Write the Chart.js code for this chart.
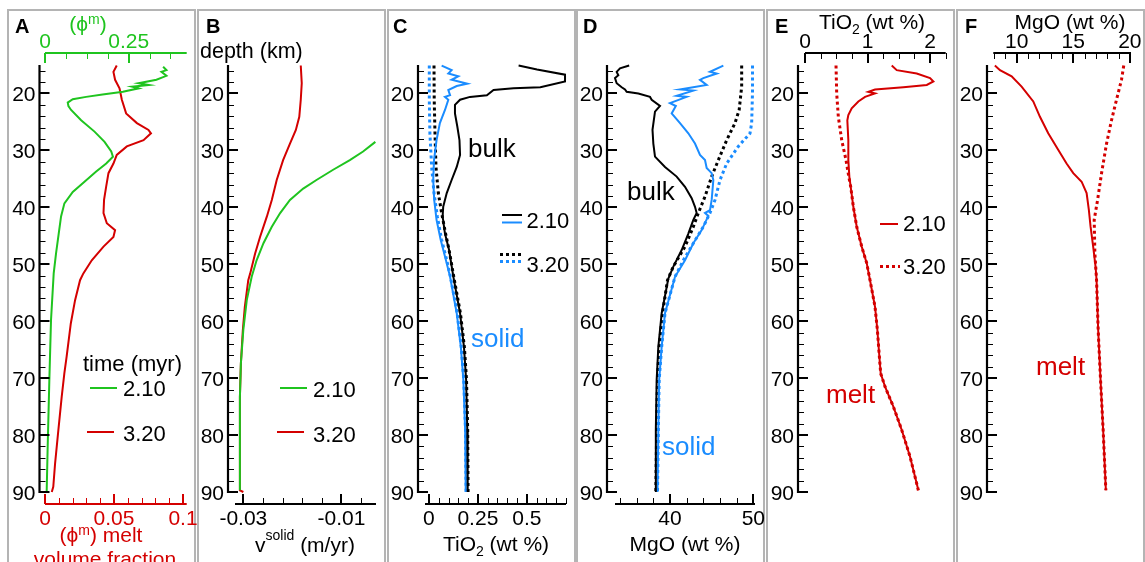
<!DOCTYPE html>
<html><head><meta charset="utf-8">
<script src="https://cdn.jsdelivr.net/npm/chart.js@4.4.0/dist/chart.umd.min.js"></script>
<style>
html,body{margin:0;padding:0;background:#fff;width:1145px;height:562px;overflow:hidden;position:relative;}
.panel{position:absolute;top:9px;height:620px;border:2px solid #b4b4b4;box-sizing:border-box;}
canvas{position:absolute;left:0;top:0;}
</style></head><body>
<div class="panel" style="left:7px;width:189px"></div>
<div class="panel" style="left:197px;width:189px"></div>
<div class="panel" style="left:387px;width:189px"></div>
<div class="panel" style="left:576px;width:189px"></div>
<div class="panel" style="left:766px;width:189px"></div>
<div class="panel" style="left:956px;width:189px"></div>
<script>
// ---------------- depth axis ----------------
const depthRange = [15, 90];
const depthMajorTicks = [20, 30, 40, 50, 60, 70, 80, 90];
const depthTickLabels = ['20', '30', '40', '50', '60', '70', '80', '90'];
const depthMinorTicks = [16, 18, 22, 24, 26, 28, 32, 34, 36, 38, 42, 44, 46, 48, 52, 54, 56, 58, 62, 64, 66, 68, 72, 74, 76, 78, 82, 84, 86, 88];

// ---------------- panel A : melt volume fraction ----------------
const A_melt320_depth = [15.1,16.2,17.6,19.1,21.1,23.5,25.2,26.4,27.0,28.2,29.3,30.8,32.3,34.0,36.4,38.7,41.0,42.8,44.0,45.2,46.9,49.3,51.6,52.8,56.3,60.4,66.2,69.2,73.3,79.1,85.0,89.1,90.0];
const A_melt320_phi   = [0.052,0.0496,0.0508,0.054,0.0557,0.0588,0.0666,0.075,0.0768,0.0714,0.0593,0.052,0.0496,0.046,0.0443,0.0428,0.0424,0.0448,0.0508,0.0496,0.0424,0.0339,0.0278,0.0254,0.0218,0.0187,0.0157,0.014,0.0121,0.0097,0.0073,0.006,0.0049];
const A_melt210_depth = [15.3,15.9,16.2,16.9,17.6,18.2,18.5,18.8,19.1,19.7,20.2,20.6,21.0,21.6,22.2,22.9,24.7,26.7,28.5,30.2,31.1,32.3,33.7,35.5,37.3,39.3,41.6,44.6,48.1,51.6,59.8,70.3,82.0,90.0];
const A_melt210_phi   = [0.353,0.363,0.348,0.363,0.333,0.28,0.31,0.26,0.28,0.233,0.172,0.123,0.083,0.068,0.07,0.078,0.108,0.148,0.178,0.198,0.203,0.183,0.153,0.118,0.083,0.058,0.048,0.041,0.033,0.026,0.018,0.013,0.008,0.005];
const A_bottomTicks = [0, 0.05, 0.1];
const A_bottomLabels = ['0', '0.05', '0.1'];
const A_topTicks = [0, 0.25];
const A_topLabels = ['0', '0.25'];

// ---------------- panel B : solid velocity ----------------
const B_v320_depth = [15.1,18.2,21.1,24.1,26.4,28.8,31.7,35.2,38.7,41.6,45.2,48.1,51.6,52.8,57.5,61.5,67.4,73.3,82.0,89.7,90.0];
const B_v320_vel   = [-0.0183,-0.0181,-0.0183,-0.0186,-0.0193,-0.0205,-0.0219,-0.0232,-0.0242,-0.0252,-0.0266,-0.0276,-0.0286,-0.029,-0.0297,-0.0301,-0.0305,-0.0307,-0.0307,-0.0307,-0.0300];
const B_v210_depth = [28.5,30.2,31.7,33.4,35.2,36.7,38.7,41.0,43.4,46.3,49.3,52.2,56.3,61.5,67.4,73.3,89.7];
const B_v210_vel   = [-0.0031,-0.0056,-0.0083,-0.0117,-0.0151,-0.0178,-0.0205,-0.0225,-0.0242,-0.0259,-0.0273,-0.0283,-0.0293,-0.030,-0.0305,-0.0307,-0.0307];
const B_ticks = [-0.03, -0.01];
const B_labels = ['-0.03', '-0.01'];

// ---------------- panel C : TiO2 bulk / solid ----------------
const C_bulk210_depth = [15.1,15.8,16.7,17.9,18.9,19.1,19.4,20.3,20.6,21.1,22.0,23.5,25.8,28.2,30.8,32.9,35.2,37.5,39.9,41.6,44.6,47.5,52.2,58.6,64.5,70.3,79.1,90.0];
const C_bulk210_tio2  = [0.458,0.552,0.695,0.695,0.569,0.432,0.33,0.296,0.21,0.159,0.133,0.133,0.145,0.156,0.159,0.142,0.116,0.091,0.073,0.07,0.082,0.103,0.125,0.159,0.179,0.19,0.196,0.198];
const C_bulk320_depth = [15.1,21.1,27.0,32.9,37.5,41.0,44.6,47.5,52.2,58.6,64.5,70.3,79.1,90.0];
const C_bulk320_tio2  = [0.026,0.027,0.031,0.036,0.048,0.065,0.085,0.103,0.127,0.161,0.181,0.192,0.198,0.2];
const C_solid210_depth = [15.1,15.9,16.5,17.0,17.6,18.3,18.7,19.4,20.3,20.6,21.1,22.9,25.2,28.2,31.7,35.2,38.7,42.2,45.7,49.3,52.2,58.6,64.5,70.3,79.1,90.0];
const C_solid210_tio2  = [0.065,0.116,0.099,0.15,0.116,0.196,0.142,0.099,0.108,0.082,0.099,0.082,0.056,0.039,0.026,0.022,0.027,0.039,0.06,0.087,0.108,0.142,0.163,0.176,0.185,0.188];
const C_solid320_depth = [15.1,21.1,27.0,32.9,37.5,41.6,45.7,49.3,52.2,58.6,64.5,70.3,79.1,90.0];
const C_solid320_tio2  = [0.002,0.002,0.005,0.014,0.026,0.043,0.065,0.091,0.11,0.144,0.165,0.178,0.187,0.19];
const C_ticks = [0, 0.25, 0.5];
const C_labels = ['0', '0.25', '0.5'];

// ---------------- panel D : MgO bulk / solid ----------------
const D_bulk210_depth = [15.1,15.6,16.2,16.8,17.3,18.2,18.9,19.3,19.7,20.0,20.6,21.1,22.2,23.2,26.4,28.8,31.1,32.9,34.6,36.4,38.4,39.9,41.0,42.2,44.6,47.5,50.4,52.5,58.6,64.5,70.3,79.1,90.0];
const D_bulk210_mgo   = [35.1,34.0,33.6,33.8,33.4,33.6,34.2,34.6,34.8,36.2,37.6,37.8,38.8,38.2,37.9,38.0,38.2,39.4,40.8,41.8,42.6,43.0,43.2,42.8,42.2,41.4,40.4,39.8,39.0,38.6,38.4,38.3,38.3];
const D_bulk320_depth = [15.1,18.8,22.9,25.2,28.2,31.7,34.6,38.1,41.0,43.4,46.9,50.4,52.8,58.6,64.5,70.3,79.1,90.0];
const D_bulk320_mgo   = [48.6,48.6,48.3,47.8,46.8,45.8,45.0,44.2,43.4,42.8,41.8,40.4,39.7,39.1,38.7,38.5,38.4,38.3];
const D_solid210_depth = [15.1,16.2,16.5,17.3,17.6,18.5,19.3,19.5,20.4,20.6,21.7,22.2,23.5,25.2,27.0,28.8,30.8,31.7,33.1,34.0,35.2,38.7,40.5,41.0,41.5,44.0,46.3,49.3,52.2,58.6,64.5,70.3,79.1,90.0];
const D_solid210_mgo   = [46.4,44.8,45.6,44.0,43.6,44.4,41.2,42.8,40.8,42.0,40.0,40.7,40.2,41.2,42.2,43.0,43.6,44.2,44.4,45.0,45.2,45.0,44.8,44.2,44.6,43.8,42.8,41.8,40.6,39.4,39.0,38.7,38.6,38.5];
const D_solid320_depth = [15.1,19.8,25.2,27.0,29.3,32.3,35.2,38.7,41.0,43.4,46.3,49.3,52.2,58.6,64.5,70.3,79.1,90.0];
const D_solid320_mgo   = [49.9,49.9,49.8,49.6,48.2,46.8,46.0,45.4,44.8,44.0,42.8,41.6,40.6,39.4,39.0,38.7,38.6,38.5];
const D_ticks = [40, 50];
const D_labels = ['40', '50'];

// ---------------- panel E : melt TiO2 ----------------
const E_melt210_depth = [15.1,15.9,16.5,17.3,17.9,18.5,18.9,19.3,19.7,20.0,20.6,21.4,22.6,23.8,24.7,28.2,31.7,34.6,36.4,39.9,43.4,46.9,49.8,52.8,57.5,61.5,66.2,69.2,71.5,75.0,79.1,83.8,89.7];
const E_melt210_tio2  = [1.387,1.467,1.787,2.0,2.053,1.947,1.573,1.12,1.013,1.12,0.96,0.853,0.747,0.693,0.677,0.693,0.693,0.709,0.731,0.773,0.827,0.907,0.987,1.04,1.12,1.157,1.189,1.211,1.28,1.413,1.547,1.68,1.813];
const E_melt320_depth = [15.1,20.0,24.1,28.2,31.7,34.6,36.4,39.9,43.4,46.9,49.8,52.8,57.5,61.5,66.2,69.2,71.5,75.0,79.1,83.8,89.7];
const E_melt320_tio2  = [0.496,0.507,0.533,0.587,0.656,0.7,0.731,0.773,0.827,0.907,0.987,1.04,1.12,1.157,1.189,1.211,1.28,1.413,1.547,1.68,1.813];
const E_ticks = [0, 1, 2];
const E_labels = ['0', '1', '2'];

// ---------------- panel F : melt MgO ----------------
const F_melt210_depth = [15.1,15.9,17.0,18.8,21.4,24.1,27.0,29.9,32.3,34.0,35.5,37.5,40.5,43.4,46.9,50.4,52.8,61.5,70.3,79.1,89.7];
const F_melt210_mgo   = [8.08,8.53,9.56,10.44,11.47,12.06,12.79,13.67,14.41,15.0,15.74,16.18,16.38,16.53,16.76,16.97,17.06,17.2,17.41,17.64,17.88];
const F_melt320_depth = [15.1,17.6,21.1,24.7,28.8,34.0,38.7,42.2,48.1,52.8,61.5,70.3,79.1,89.7];
const F_melt320_mgo   = [19.46,19.26,18.82,18.38,17.94,17.5,17.15,16.85,16.91,17.06,17.2,17.41,17.64,17.88];
const F_ticks = [10, 15, 20];
const F_labels = ['10', '15', '20'];

// ---------------- styling ----------------
const GREEN = '#1fc41f', RED = '#d40000', BLUE = '#1a8cff', BLACK = '#000000';
const FONT = '"Liberation Sans", Arial, Helvetica, sans-serif';
const W = 1145, H = 562, AREA_TOP = 65, AREA_BOTTOM = 492;

function pts(depths, vals) { return depths.map((d, i) => ({ x: vals[i], y: d })); }
function ds(label, depths, vals, color, dotted, xAxisID) {
  return {
    label, data: pts(depths, vals), borderColor: color, backgroundColor: color,
    borderWidth: dotted ? 3 : 2, borderDash: dotted ? [3, 3] : [],
    pointRadius: 0, tension: 0, fill: false, clip: false, xAxisID: xAxisID || 'x', yAxisID: 'y'
  };
}
function seg(ctx, x1, y1, x2, y2) { ctx.beginPath(); ctx.moveTo(x1, y1); ctx.lineTo(x2, y2); ctx.stroke(); }
function rich(ctx, parts, x, y, align, color) {
  let w = 0;
  parts.forEach(p => { ctx.font = (p.bold ? 'bold ' : '') + (p.size || 21) + 'px ' + FONT; p.w = ctx.measureText(p.t).width; w += p.w; });
  let cx = align === 'center' ? x - w / 2 : (align === 'right' ? x - w : x);
  ctx.fillStyle = color; ctx.textAlign = 'left'; ctx.textBaseline = 'alphabetic';
  parts.forEach(p => { ctx.font = (p.bold ? 'bold ' : '') + (p.size || 21) + 'px ' + FONT; ctx.fillText(p.t, cx, y + (p.dy || 0)); cx += p.w; });
}

function drawAxes(chart, spec) {
  const ctx = chart.ctx, ca = chart.chartArea, ys = chart.scales.y;
  ctx.save();
  ctx.lineCap = 'butt';
  // depth axis
  const ax = ca.left - spec.yGap;
  const yTop = ys.getPixelForValue(depthRange[0]), yBot = ys.getPixelForValue(depthRange[1]);
  ctx.strokeStyle = '#000';
  ctx.lineWidth = 1;
  depthMinorTicks.forEach(d => { const p = Math.round(ys.getPixelForValue(d)) + 0.5; seg(ctx, ax, p, ax + 6, p); });
  ctx.lineWidth = 2;
  depthMajorTicks.forEach(d => { const p = Math.round(ys.getPixelForValue(d)); seg(ctx, ax, p, ax + 10, p); });
  ctx.lineWidth = 2.2;
  seg(ctx, ax, yTop, ax, yBot + 1);
  ctx.fillStyle = '#000'; ctx.font = '21px ' + FONT; ctx.textAlign = 'right'; ctx.textBaseline = 'alphabetic';
  depthMajorTicks.forEach((d, i) => ctx.fillText(depthTickLabels[i], ax - 4, ys.getPixelForValue(d) + 7.5));
  // value axes
  spec.xAxes.forEach(a => {
    const sc = chart.scales[a.id];
    const bottom = a.side === 'bottom';
    const ay = bottom ? ca.bottom + 12 : ca.top - 12;
    const dir = bottom ? -1 : 1;
    ctx.strokeStyle = a.color; ctx.fillStyle = a.color;
    ctx.lineWidth = 1;
    for (let k = 0; ; k++) {
      const v = a.minorFrom + k * a.minorStep;
      if (v > sc.max + 1e-9) break;
      const p = Math.round(sc.getPixelForValue(v)) + 0.5;
      seg(ctx, p, ay, p, ay + dir * 6);
    }
    ctx.lineWidth = 2;
    a.ticks.forEach(v => { const p = Math.round(sc.getPixelForValue(v)); seg(ctx, p, ay, p, ay + dir * 10); });
    ctx.lineWidth = 2.2;
    seg(ctx, ca.left, ay, ca.right, ay);
    ctx.font = '21px ' + FONT; ctx.textAlign = 'center'; ctx.textBaseline = 'alphabetic';
    a.ticks.forEach((v, i) => ctx.fillText(a.labels[i], sc.getPixelForValue(v), bottom ? ay + 21 : ay - 4.7));
  });
  ctx.restore();
}

function drawAnno(chart, anno) {
  const ctx = chart.ctx;
  ctx.save();
  anno.forEach(a => {
    if (a.line) {
      ctx.strokeStyle = a.color; ctx.lineWidth = a.dotted ? 3 : 2; ctx.setLineDash(a.dotted ? [3, 3] : []);
      seg(ctx, a.line[0], a.line[1], a.line[2], a.line[1]);
      ctx.setLineDash([]);
    } else {
      rich(ctx, a.parts, a.x, a.y, a.align || 'left', a.color || '#000');
    }
  });
  ctx.restore();
}

function makeChart(left, right, xScales, datasets, spec) {
  const canvas = document.createElement('canvas');
  canvas.width = W; canvas.height = H;
  canvas.style.width = W + 'px'; canvas.style.height = H + 'px';
  document.body.appendChild(canvas);
  const scales = { y: { type: 'linear', min: depthRange[0], max: depthRange[1], reverse: true, display: false } };
  Object.keys(xScales).forEach(k => {
    scales[k] = { type: 'linear', position: xScales[k].position || 'bottom', min: xScales[k].min, max: xScales[k].max, display: false };
  });
  return new Chart(canvas, {
    type: 'line',
    data: { datasets },
    options: {
      responsive: false, animation: false, devicePixelRatio: 1, events: [],
      layout: { padding: { left: left, right: W - right, top: AREA_TOP, bottom: H - AREA_BOTTOM } },
      plugins: { legend: { display: false }, tooltip: { enabled: false }, title: { display: false } },
      scales
    },
    plugins: [{ id: 'axesAndText', afterDraw(c) { drawAxes(c, spec); drawAnno(c, spec.anno); } }]
  });
}

const sup = (t, dy) => ({ t, size: 14, dy: dy });
const sub = (t) => ({ t, size: 14, dy: 5 });

// Panel A
makeChart(45, 186.7,
  { x: { min: 0, max: 0.1027, position: 'bottom' }, x2: { min: 0, max: 0.4235, position: 'top' } },
  [ds('2.10 myr', A_melt210_depth, A_melt210_phi, GREEN, false, 'x2'),
   ds('3.20 myr', A_melt320_depth, A_melt320_phi, RED, false, 'x')],
  { yGap: 5.5,
    xAxes: [{ id: 'x', side: 'bottom', color: RED, ticks: A_bottomTicks, labels: A_bottomLabels, minorFrom: 0, minorStep: 0.01 },
            { id: 'x2', side: 'top', color: GREEN, ticks: A_topTicks, labels: A_topLabels, minorFrom: 0, minorStep: 0.0625 }],
    anno: [
      { parts: [{ t: 'A', bold: true, size: 20 }], x: 15, y: 33 },
      { parts: [{ t: '(ϕ' }, sup('m', -7), { t: ')' }], x: 88, y: 31, align: 'center', color: GREEN },
      { parts: [{ t: '(ϕ' }, sup('m', -7), { t: ') melt' }], x: 101, y: 541.5, align: 'center', color: RED },
      { parts: [{ t: 'volume fraction' }], x: 105, y: 566, align: 'center', color: RED },
      { parts: [{ t: 'time (myr)', size: 22 }], x: 83, y: 371 },
      { line: [90, 388, 117], color: GREEN },
      { parts: [{ t: '2.10', size: 22 }], x: 123, y: 396 },
      { line: [87, 432, 114], color: RED },
      { parts: [{ t: '3.20', size: 22 }], x: 123, y: 441 }
    ] });

// Panel B
makeChart(235, 376,
  { x: { min: -0.0317, max: -0.00297 } },
  [ds('2.10', B_v210_depth, B_v210_vel, GREEN, false),
   ds('3.20', B_v320_depth, B_v320_vel, RED, false)],
  { yGap: 7,
    xAxes: [{ id: 'x', side: 'bottom', color: BLACK, ticks: B_ticks, labels: B_labels, minorFrom: -0.03, minorStep: 0.004 }],
    anno: [
      { parts: [{ t: 'B', bold: true, size: 20 }], x: 206, y: 33 },
      { parts: [{ t: 'depth (km)', size: 21.5 }], x: 200, y: 58 },
      { parts: [{ t: 'v' }, sup('solid', -12), { t: ' (m/yr)' }], x: 255, y: 551.5 },
      { line: [280, 388, 307], color: GREEN },
      { parts: [{ t: '2.10', size: 22 }], x: 313, y: 396.5 },
      { line: [277, 432, 304], color: RED },
      { parts: [{ t: '3.20', size: 22 }], x: 313, y: 441.5 }
    ] });

// Panel C
makeChart(425, 566,
  { x: { min: -0.02, max: 0.7 } },
  [ds('bulk 2.10', C_bulk210_depth, C_bulk210_tio2, BLACK, false),
   ds('solid 2.10', C_solid210_depth, C_solid210_tio2, BLUE, false),
   ds('solid 3.20', C_solid320_depth, C_solid320_tio2, BLUE, true),
   ds('bulk 3.20', C_bulk320_depth, C_bulk320_tio2, BLACK, true)],
  { yGap: 7,
    xAxes: [{ id: 'x', side: 'bottom', color: BLACK, ticks: C_ticks, labels: C_labels, minorFrom: 0, minorStep: 0.05 }],
    anno: [
      { parts: [{ t: 'C', bold: true, size: 20 }], x: 393, y: 33 },
      { parts: [{ t: 'bulk', size: 26 }], x: 468, y: 157 },
      { parts: [{ t: 'solid', size: 26 }], x: 471, y: 346.5, color: BLUE },
      { line: [502, 215, 522], color: BLACK },
      { line: [502, 222.5, 522], color: BLUE },
      { parts: [{ t: '2.10', size: 22 }], x: 526.5, y: 228 },
      { line: [500, 254.5, 522], color: BLACK, dotted: true },
      { line: [500, 261.5, 522], color: BLUE, dotted: true },
      { parts: [{ t: '3.20', size: 22 }], x: 526.5, y: 271.5 },
      { parts: [{ t: 'TiO' }, sub('2'), { t: ' (wt %)' }], x: 496, y: 551, align: 'center' }
    ] });

// Panel D
makeChart(615, 755,
  { x: { min: 33.4, max: 50.2 } },
  [ds('bulk 2.10', D_bulk210_depth, D_bulk210_mgo, BLACK, false),
   ds('solid 2.10', D_solid210_depth, D_solid210_mgo, BLUE, false),
   ds('solid 3.20', D_solid320_depth, D_solid320_mgo, BLUE, true),
   ds('bulk 3.20', D_bulk320_depth, D_bulk320_mgo, BLACK, true)],
  { yGap: 8,
    xAxes: [{ id: 'x', side: 'bottom', color: BLACK, ticks: D_ticks, labels: D_labels, minorFrom: 34, minorStep: 2 }],
    anno: [
      { parts: [{ t: 'D', bold: true, size: 20 }], x: 583, y: 33 },
      { parts: [{ t: 'bulk', size: 26 }], x: 627, y: 200 },
      { parts: [{ t: 'solid', size: 26 }], x: 662, y: 455, color: BLUE },
      { parts: [{ t: 'MgO (wt %)' }], x: 685, y: 551, align: 'center' }
    ] });

// Panel E
makeChart(805, 945.7,
  { x: { min: 0, max: 2.25, position: 'top' } },
  [ds('2.10', E_melt210_depth, E_melt210_tio2, RED, false),
   ds('3.20', E_melt320_depth, E_melt320_tio2, RED, true)],
  { yGap: 7,
    xAxes: [{ id: 'x', side: 'top', color: BLACK, ticks: E_ticks, labels: E_labels, minorFrom: 0, minorStep: 0.25 }],
    anno: [
      { parts: [{ t: 'E', bold: true, size: 20 }], x: 775, y: 33 },
      { parts: [{ t: 'TiO' }, sub('2'), { t: ' (wt %)' }], x: 872, y: 29, align: 'center' },
      { line: [880, 224, 898], color: RED },
      { parts: [{ t: '2.10', size: 22 }], x: 903, y: 231 },
      { line: [880, 266.5, 900], color: RED, dotted: true },
      { parts: [{ t: '3.20', size: 22 }], x: 903, y: 274 },
      { parts: [{ t: 'melt', size: 26 }], x: 826, y: 402.5, color: RED }
    ] });

// Panel F
makeChart(993.3, 1131,
  { x: { min: 7.94, max: 20.1, position: 'top' } },
  [ds('2.10', F_melt210_depth, F_melt210_mgo, RED, false),
   ds('3.20', F_melt320_depth, F_melt320_mgo, RED, true)],
  { yGap: 6.3,
    xAxes: [{ id: 'x', side: 'top', color: BLACK, ticks: F_ticks, labels: F_labels, minorFrom: 8, minorStep: 1 }],
    anno: [
      { parts: [{ t: 'F', bold: true, size: 20 }], x: 965, y: 33 },
      { parts: [{ t: 'MgO (wt %)' }], x: 1070, y: 28.5, align: 'center' },
      { parts: [{ t: 'melt', size: 26 }], x: 1036, y: 375, color: RED }
    ] });
</script>
</body></html>
